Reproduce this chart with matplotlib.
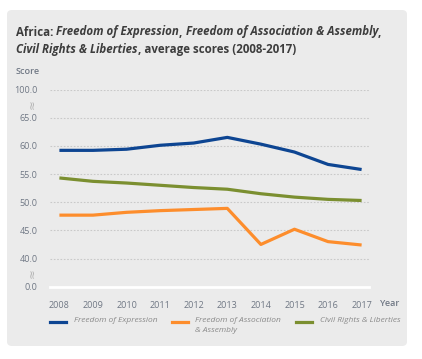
import matplotlib
matplotlib.use("Agg")
import matplotlib.pyplot as plt
from matplotlib.patches import FancyBboxPatch
from matplotlib.lines import Line2D

years = [2008, 2009, 2010, 2011, 2012, 2013, 2014, 2015, 2016, 2017]
expression = [59.2, 59.2, 59.4, 60.1, 60.5, 61.5, 60.3, 58.9, 56.7, 55.8]
association = [47.7, 47.7, 48.2, 48.5, 48.7, 48.9, 42.5, 45.2, 43.0, 42.4]
civil_rights = [54.3, 53.7, 53.4, 53.0, 52.6, 52.3, 51.5, 50.9, 50.5, 50.3]

# broken axis: 0.0 drawn at 35 and 100.0 at 70
tick_pos = [35, 40, 45, 50, 55, 60, 65, 70]
tick_labels = ["0.0", "40.0", "45.0", "50.0", "55.0", "60.0", "65.0", "100.0"]

series_names = ["Freedom of Expression", "Freedom of Association\n& Assembly",
                "Civil Rights & Liberties"]
colors = ["#0d4592", "#fd8d2c", "#7b8f30"]

W, H = 422, 359
plt.rcParams['font.family'] = ['Open Sans', 'DejaVu Sans']
fig = plt.figure(figsize=(W / 100, H / 100), dpi=100)


def px(x, y):
    return x / W, 1 - y / H


# grey card behind everything
card = FancyBboxPatch(px(7, 346), 400 / W, 336 / H,
                      boxstyle="round,pad=0,rounding_size=0.012",
                      transform=fig.transFigure, facecolor="#ebebeb",
                      edgecolor="none", zorder=-5)
fig.patches.append(card)

left, top = px(50, 89.5)
right, bottom = px(369, 286.7)
ax = fig.add_axes([left, bottom, right - left, top - bottom])
ax.set_zorder(2)
ax.set_facecolor("none")

for vals, c in zip([expression, association, civil_rights], colors):
    ax.plot(years, vals, color=c, lw=2.3, solid_capstyle="butt", clip_on=False, zorder=3)

ax.set_xlim(2007.72, 2017.22)
ax.set_ylim(35, 70)
ax.set_xticks(years)
ax.set_xticklabels([str(y) for y in years])
ax.set_yticks(tick_pos)
ax.set_yticklabels(tick_labels)
ax.tick_params(length=0, labelsize=6.5, labelcolor="#6f7784", pad=9)
ax.tick_params(axis="x", pad=10)
for s in ax.spines.values():
    s.set_visible(False)
for yv in tick_pos[1:]:
    ax.axhline(yv, color="#c9c9c9", lw=0.8, ls=(0, (1.5, 1.5)), zorder=1)
ax.axhline(35, color="white", lw=2, zorder=2, clip_on=False)

# axis break marks
for yv in [67.5, 37.5]:
    ax.text(-0.053, yv, "≈", transform=ax.get_yaxis_transform(), rotation=90,
            ha="center", va="center", fontsize=8.5, color="#b4b4b4",
            family=["DejaVu Sans"])

fig.text(*px(40, 71), "Score", ha="right", va="center", fontsize=6.5,
         color="#6f7784", fontweight="semibold")
fig.text(*px(380, 304), "Year", ha="left", va="center", fontsize=6.5,
         color="#6f7784", fontweight="semibold")

# title with mixed upright / italic pieces
renderer = fig.canvas.get_renderer()
title_lines = [
    [("Africa: ", "normal"), ("Freedom of Expression", "italic"), (", ", "normal"),
     ("Freedom of Association & Assembly", "italic"), (",", "normal")],
    [("Civil Rights & Liberties", "italic"), (", average scores (2008-2017)", "normal")],
]
for line, ly in zip(title_lines, [32, 50]):
    xcur = 16
    for txt, style in line:
        t = fig.text(*px(xcur, ly), txt, ha="left", va="center", fontsize=8.3,
                     fontweight="bold", fontstyle=style, color="#3d3d3d")
        bb = t.get_window_extent(renderer)
        xcur += bb.width

# legend drawn by hand
legend_x = [(50, 74), (172, 195), (296, 320)]
for (lx, tx), name, c in zip(legend_x, series_names, colors):
    fig.add_artist(Line2D([lx / W, (lx + 16) / W], [1 - 322 / H] * 2,
                          color=c, lw=2.3, transform=fig.transFigure))
    fig.text(*px(tx, 317), name, ha="left", va="top", fontsize=6.0,
             fontstyle="italic", color="#8a8a8a", linespacing=1.55)

fig.savefig("out.png", dpi=100)
